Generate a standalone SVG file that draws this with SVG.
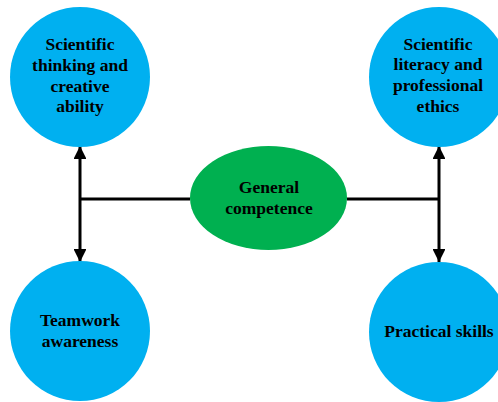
<svg xmlns="http://www.w3.org/2000/svg" width="498" height="402" viewBox="0 0 498 402">
  <style>
    .blue { fill: #00B0F0; }
    .green { fill: #00B050; }
    .label { font-family: "Liberation Serif", "Times New Roman", serif; font-weight: bold; font-size: 17.5px; fill: #000; text-anchor: middle; }
    .wire { stroke: #000; stroke-width: 3; fill: none; }
  </style>
  <defs>
    <marker id="arrow" viewBox="0 0 10 10" refX="10" refY="5" markerWidth="4.3" markerHeight="4.3" orient="auto-start-reverse" markerUnits="strokeWidth">
      <path d="M0,0 L10,5 L0,10 Z" fill="#000"/>
    </marker>
  </defs>
  <rect width="498" height="402" fill="#fff"/>

  <g id="connectors">
    <line class="wire" x1="190" y1="199" x2="80" y2="199"/>
    <line class="wire" x1="347" y1="199" x2="439" y2="199"/>
    <line class="wire" x1="80" y1="146" x2="80" y2="262" marker-start="url(#arrow)" marker-end="url(#arrow)"/>
    <line class="wire" x1="439" y1="146" x2="439" y2="262" marker-start="url(#arrow)" marker-end="url(#arrow)"/>
  </g>

  <g id="scientific-thinking">
    <circle class="blue" cx="80" cy="77" r="70"/>
    <text class="label" x="80" y="50">Scientific</text>
    <text class="label" x="80" y="71">thinking and</text>
    <text class="label" x="80" y="92">creative</text>
    <text class="label" x="80" y="112">ability</text>
  </g>

  <g id="scientific-literacy">
    <circle class="blue" cx="439" cy="77" r="70"/>
    <text class="label" x="438" y="50">Scientific</text>
    <text class="label" x="438" y="70">literacy and</text>
    <text class="label" x="438" y="91">professional</text>
    <text class="label" x="438" y="112">ethics</text>
  </g>

  <g id="general-competence">
    <ellipse class="green" cx="268.5" cy="198" rx="78.5" ry="52"/>
    <text class="label" x="269" y="193">General</text>
    <text class="label" x="269" y="214">competence</text>
  </g>

  <g id="teamwork">
    <circle class="blue" cx="80" cy="331" r="70"/>
    <text class="label" x="80" y="326">Teamwork</text>
    <text class="label" x="80" y="347">awareness</text>
  </g>

  <g id="practical-skills">
    <circle class="blue" cx="439" cy="332" r="70"/>
    <text class="label" x="439" y="337">Practical skills</text>
  </g>
</svg>
